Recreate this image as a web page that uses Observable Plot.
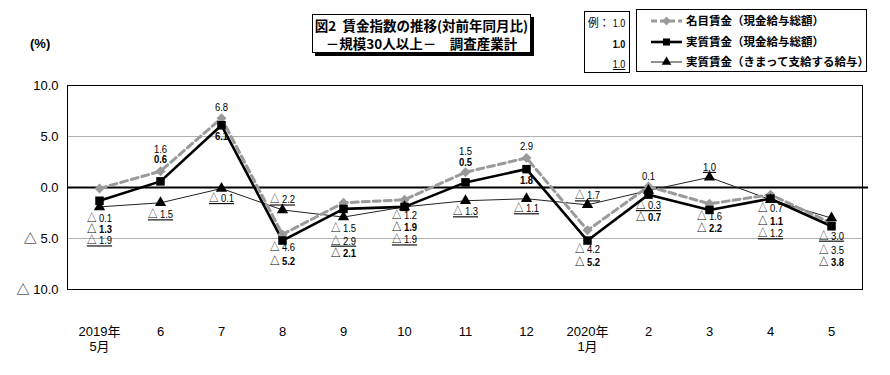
<!DOCTYPE html>
<html><head><meta charset="utf-8">
<script src="https://cdn.jsdelivr.net/npm/d3@7"></script>
<script src="https://cdn.jsdelivr.net/npm/@observablehq/plot@0.6"></script>
<style>
body{margin:0;background:#fff;}
#wrap{position:relative;width:890px;height:375px;font-family:"Noto Sans CJK JP",sans-serif;color:#000;}
#wrap > svg{position:absolute;left:0;top:0;}
.ov{position:absolute;}
#title{left:312px;top:14px;width:219px;height:39px;border:1px solid #000;box-shadow:3px 3px 0 #000;background:#fff;text-align:center;font-weight:bold;font-size:13.5px;line-height:18px;box-sizing:border-box;padding-top:1px;white-space:nowrap;}
#pct{left:30px;top:36px;font-family:"Liberation Sans",sans-serif;font-size:13px;font-weight:bold;}
#ex{left:584px;top:11px;width:46px;height:62px;border:1px solid #000;box-sizing:border-box;font-size:11px;text-align:right;padding-right:4px;}
#ex div{height:20.5px;line-height:20.5px;}
.num{font-family:"Liberation Sans","Noto Sans CJK JP",sans-serif;display:inline-block;transform:scaleX(0.82);transform-origin:right center;}
</style></head><body><div id="wrap"></div>
<script>
// ---- data ----
const months = ["2019-05","2019-06","2019-07","2019-08","2019-09","2019-10","2019-11","2019-12","2020-01","2020-02","2020-03","2020-04","2020-05"];
const monthLabels = ["2019年\n5月","6","7","8","9","10","11","12","2020年\n1月","2","3","4","5"];
const seriesNames = ["名目賃金（現金給与総額）","実質賃金（現金給与総額）","実質賃金（きまって支給する給与）"];
const nominal   = [-0.1, 1.6, 6.8, -4.6, -1.5, -1.2, 1.5, 2.9, -4.2, 0.1, -1.6, -0.7, -3.5];
const real      = [-1.3, 0.6, 6.1, -5.2, -2.1, -1.9, 0.5, 1.8, -5.2, -0.7, -2.2, -1.1, -3.8];
const scheduled = [-1.9, -1.5, -0.1, -2.2, -2.9, -1.9, -1.3, -1.1, -1.7, -0.3, 1.0, -1.2, -3.0];
const yTicks = [10, 5, 0, -5, -10];

// ---- label layout (pixel offsets from the point; + = below) ----
const nominalLabelDy   = [30, -22, -11, 13, 26, 16, -21, -11, 19.5, -10, 13, 14, 27];
const realLabelDy      = [29, -21.6, 11, 21, 44.6, 21, -19.6, 11.7, 22, 23, 19, 23, 36];
const scheduledLabelDy = [34, 12, 10, -10, 24, 33, 11, 10, -9, 15, -10, 34, 18];

const W = 890, H = 375, MT = 85, MB = 86, ML = 67, MR = 28;
const ppu = (H - MT - MB) / 20;
const fmt = v => v < 0 ? "△ " + Math.abs(v).toFixed(1) : Math.abs(v).toFixed(1);
const rows = months.map((m, i) => ({m, nominal: nominal[i], real: real[i], scheduled: scheduled[i]}));
const labelFont = '"Liberation Sans","Noto Sans CJK JP",sans-serif';
const GRAY = "#9a9a9a";
const LFS = 11;

const chart = Plot.plot({
  width: W, height: H, marginTop: MT, marginBottom: MB, marginLeft: ML, marginRight: MR,
  style: {background: "transparent", overflow: "visible"},
  x: {type: "point", domain: months, padding: 0.5, axis: null},
  y: {domain: [-10, 10], axis: null},
  marks: [
    Plot.ruleY([5, -5], {stroke: "#b0b0b0", strokeWidth: 1}),
    Plot.frame({stroke: "#000", strokeWidth: 1}),
    Plot.ruleY([0], {stroke: "#000", strokeWidth: 2, insetRight: -6}),
    Plot.axisY(yTicks, {tickSize: 0, tickPadding: 9, fontSize: 13, fontFamily: '"Liberation Sans","Noto Sans CJK JP",sans-serif', tickFormat: v => fmt(v), label: null}),
    Plot.axisX({tickSize: 0, tickPadding: 35, fontSize: 13, lineHeight: 1.2, fontFamily: '"Liberation Sans","Noto Sans CJK JP",sans-serif', tickFormat: d => monthLabels[months.indexOf(d)], label: null}),
    Plot.line(rows, {x: "m", y: "scheduled", stroke: "#222", strokeWidth: 1}),
    Plot.line(rows, {x: "m", y: "nominal", stroke: GRAY, strokeWidth: 3, strokeDasharray: "7,4"}),
    Plot.line(rows, {x: "m", y: "real", stroke: "#000", strokeWidth: 2.6}),
    Plot.dot(rows, {x: "m", y: "nominal", symbol: "diamond2", fill: GRAY, r: 4.5}),
    Plot.dot(rows, {x: "m", y: "real", symbol: "square", fill: "#000", r: 4.8}),
    Plot.dot(rows, {x: "m", y: "scheduled", symbol: "triangle", fill: "#000", r: 4.2}),
    Plot.text(rows, {x: "m", y: (d, i) => d.nominal - nominalLabelDy[i] / ppu, text: d => fmt(d.nominal), fontSize: LFS, fontFamily: labelFont, fill: "#000", ariaDescription: "lbl-nominal"}),
    Plot.text(rows, {x: "m", y: (d, i) => d.real - realLabelDy[i] / ppu, text: d => fmt(d.real), fontSize: LFS, fontWeight: "bold", fontFamily: labelFont, fill: "#000", ariaDescription: "lbl-real"}),
    Plot.text(rows, {x: "m", y: (d, i) => d.scheduled - scheduledLabelDy[i] / ppu, text: d => fmt(d.scheduled), fontSize: LFS, fontFamily: labelFont, fill: "#000", ariaDescription: "lbl-sched"})
  ]
});

const wrap = document.getElementById("wrap");
wrap.appendChild(chart);

// condense value labels (reference uses a narrow face) and underline the third series
["lbl-nominal", "lbl-real", "lbl-sched"].forEach(key => {
  chart.querySelectorAll(`g[aria-description="${key}"] text`).forEach(t => {
    const len = t.getComputedTextLength();
    t.setAttribute("textLength", (len * 0.86).toFixed(1));
    t.setAttribute("lengthAdjust", "spacingAndGlyphs");
    if (key === "lbl-sched") t.style.textDecoration = "underline";
  });
});

// title
const title = document.createElement("div");
title.className = "ov"; title.id = "title";
title.innerHTML = "図2&nbsp;&nbsp;賃金指数の推移(対前年同月比)<br>－規模30人以上－　調査産業計";
wrap.appendChild(title);

const pct = document.createElement("div");
pct.className = "ov"; pct.id = "pct"; pct.textContent = "(%)";
wrap.appendChild(pct);

// example box
const ex = document.createElement("div");
ex.className = "ov"; ex.id = "ex";
ex.innerHTML = '<div>例：<span class="num">1.0</span></div><div><span class="num" style="font-weight:bold">1.0</span></div><div><span class="num" style="text-decoration:underline">1.0</span></div>';
wrap.appendChild(ex);

// legend
const lg = d3.select(wrap).append("svg").attr("class", "ov")
  .style("left", "636px").style("top", "9px").attr("width", 232).attr("height", 64);
lg.append("rect").attr("x", 0.5).attr("y", 0.5).attr("width", 230).attr("height", 62).attr("fill", "#fff").attr("stroke", "#000");
const styles = [
  {stroke: GRAY, sw: 3, dash: "6,3", sym: d3.symbolDiamond2, size: 50, fill: GRAY},
  {stroke: "#000", sw: 2.6, dash: null, sym: d3.symbolSquare, size: 50, fill: "#000"},
  {stroke: "#222", sw: 1, dash: null, sym: d3.symbolTriangle, size: 40, fill: "#000"}
];
const rowY = [12, 33, 53];
seriesNames.forEach((name, i) => {
  const s = styles[i], y = rowY[i];
  lg.append("line").attr("x1", 15).attr("x2", 46).attr("y1", y).attr("y2", y)
    .attr("stroke", s.stroke).attr("stroke-width", s.sw).attr("stroke-dasharray", s.dash);
  lg.append("path").attr("d", d3.symbol(s.sym, s.size)()).attr("transform", `translate(30.5,${y})`).attr("fill", s.fill);
  lg.append("text").attr("x", 50).attr("y", y).attr("dy", "0.36em")
    .attr("font-size", 11.5).attr("font-weight", "bold").attr("font-family", '"Noto Sans CJK JP",sans-serif').text(name);
});
</script></body></html>
